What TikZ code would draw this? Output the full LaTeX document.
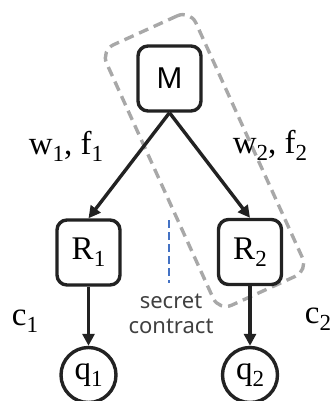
\documentclass[tikz,border=0pt]{standalone}
\usepackage{fontspec}
\newfontfamily\labelsans{Noto Sans}
\newfontfamily\labelserif{Liberation Serif}
\usetikzlibrary{arrows.meta}

\definecolor{linegray}{HTML}{222222}
\definecolor{dashgray}{HTML}{A8A8A8}
\definecolor{contractblue}{HTML}{4472C4}
\definecolor{textgray}{HTML}{404040}

% lowered index in the label font
\newcommand{\idx}[1]{\raisebox{-7pt}{\fontsize{23}{23}\selectfont #1}}

\begin{document}
\begin{tikzpicture}[
    x=1pt,
    y=-1pt,
    agent/.style={draw=linegray, line width=3.4pt, rounded corners=10pt,
        minimum width=63pt, minimum height=65pt, inner sep=0pt,
        font=\labelserif\fontsize{33}{33}\selectfont},
    payoff/.style={draw=linegray, line width=3.4pt, circle, minimum size=55pt,
        inner sep=0pt, font=\labelserif\fontsize{33}{33}\selectfont},
    flow/.style={draw=linegray, line width=3.4pt, -{Triangle[length=12pt,width=12pt]}},
    lbl/.style={anchor=base, inner sep=0pt, font=\labelserif\fontsize{33}{33}\selectfont},
]

% Frame of 332 x 401 units
\useasboundingbox (0,0) rectangle (332,401);

% Secret contract region (drawn first, behind)
\node[draw=dashgray, line width=3.4pt, dash pattern=on 10pt off 6pt,
    rounded corners=14pt, minimum width=98pt, minimum height=286pt,
    rotate=24.4] (coalition) at (204.5,160.5) {};

% Principal
\node[agent, font=\labelsans\fontsize{29}{29}\selectfont] (M) at (169.5,78.5) {M};

% Agents
\node[agent] (R1) at (88.5,252.5) {R\idx{1}};
\node[agent] (R2) at (250,252) {R\idx{2}};

% Outcomes
\node[payoff] (q1) at (88.5,375) {q\idx{1}};
\node[payoff] (q2) at (250,375) {q\idx{2}};

% Contracts
\draw[flow] (M.south) -- (R1.north);
\draw[flow] (M.south) -- (R2.north);

% Effort
\draw[flow] (R1.south) -- (q1.north);
\draw[flow] (R2.south) -- (q2.north);

% Labels
\node[lbl] (wf1) at (66,154) {w\idx{1}, f\idx{1}};
\node[lbl] (wf2) at (270,153) {w\idx{2}, f\idx{2}};
\node[lbl] (c1) at (25,325) {c\idx{1}};
\node[lbl] (c2) at (318,323) {c\idx{2}};

% Secret side deal
\coordinate (cut top) at (169,220);
\coordinate (cut bot) at (169,283);
\draw[contractblue, line width=2.6pt, dash pattern=on 8pt off 4pt] (cut top) -- (cut bot);
\node[font=\labelsans\fontsize{22}{25}\selectfont, text=textgray, align=center,
    inner sep=0pt] (secret) at (171,314) {secret\\contract};

\end{tikzpicture}
\end{document}
